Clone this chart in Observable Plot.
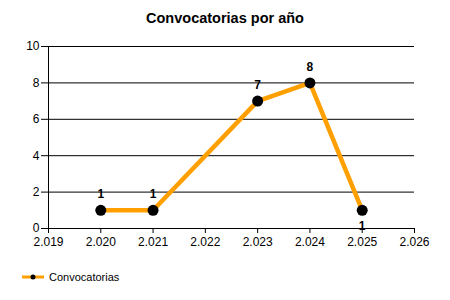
<!DOCTYPE html>
<html><head><meta charset="utf-8">
<script src="https://cdn.jsdelivr.net/npm/d3@7"></script>
<script src="https://cdn.jsdelivr.net/npm/@observablehq/plot@0.6"></script>
<style>
body{margin:0;background:#fff;font-family:"Liberation Sans",Arial,sans-serif;}
#wrap{width:450px;height:300px;position:relative;}
#title{height:30px;line-height:37px;text-align:center;font-weight:bold;font-size:14.5px;color:#000;}
#legend{position:absolute;left:0;top:271px;font-size:11px;display:flex;align-items:center;}
</style></head><body>
<div id="wrap">
<div id="title">Convocatorias por año</div>
<div id="chart"></div>
<div id="legend"></div>
</div>
<script>
const years = [2020, 2021, 2023, 2024, 2025];
const values = [1, 1, 7, 8, 1];
const labelBelow = [false, false, false, false, true];
const xTicks = [2019, 2020, 2021, 2022, 2023, 2024, 2025, 2026];
const yTicks = [0, 2, 4, 6, 8, 10];
const seriesName = "Convocatorias";
const lineColor = "#FFA000";

const data = years.map((y, i) => ({year: y, value: values[i], below: labelBelow[i]}));
const fmt = d => "2." + String(d % 1000).padStart(3, "0");

const chart = Plot.plot({
  width: 450, height: 230,
  marginTop: 16, marginBottom: 32, marginLeft: 48, marginRight: 36,
  style: {fontFamily: "'Liberation Sans', Arial, sans-serif", fontSize: "12px", color: "#000", background: "#fff"},
  x: {domain: [2019, 2026], ticks: xTicks, tickFormat: fmt, label: null, tickSize: 5},
  y: {domain: [0, 10], ticks: yTicks, label: null, tickSize: 7},
  marks: [
    Plot.gridY(yTicks, {stroke: "#000", strokeOpacity: 1, strokeWidth: 1}),
    Plot.axisY({ticks: yTicks, tickSize: 7, tickPadding: 2, fontSize: 12, label: null}),
    Plot.axisX({ticks: xTicks, tickFormat: fmt, tickSize: 5, tickPadding: 4, fontSize: 12, label: null}),
    Plot.ruleX([2019], {stroke: "#000"}),
    Plot.ruleY([0], {stroke: "#000"}),
    Plot.line(data, {x: "year", y: "value", stroke: lineColor, strokeWidth: 4.5}),
    Plot.dot(data, {x: "year", y: "value", r: 5.5, fill: "#000"}),
    Plot.text(data.filter(d => !d.below), {x: "year", y: "value", text: d => String(d.value), dy: -16, fontWeight: "bold", fontSize: 12, fill: "#000"}),
    Plot.text(data.filter(d => d.below), {x: "year", y: "value", text: d => String(d.value), dy: 16, fontWeight: "bold", fontSize: 12, fill: "#000"})
  ]
});
document.getElementById("chart").appendChild(chart);

// legend
const lg = d3.select("#legend");
const sw = lg.append("svg").attr("width", 48).attr("height", 12);
sw.append("line").attr("x1", 22).attr("x2", 44).attr("y1", 6).attr("y2", 6).attr("stroke", lineColor).attr("stroke-width", 3);
sw.append("circle").attr("cx", 33).attr("cy", 6).attr("r", 2.5).attr("fill", "#000");
lg.append("span").text(seriesName).style("margin-left", "1px");
</script>
</body></html>
